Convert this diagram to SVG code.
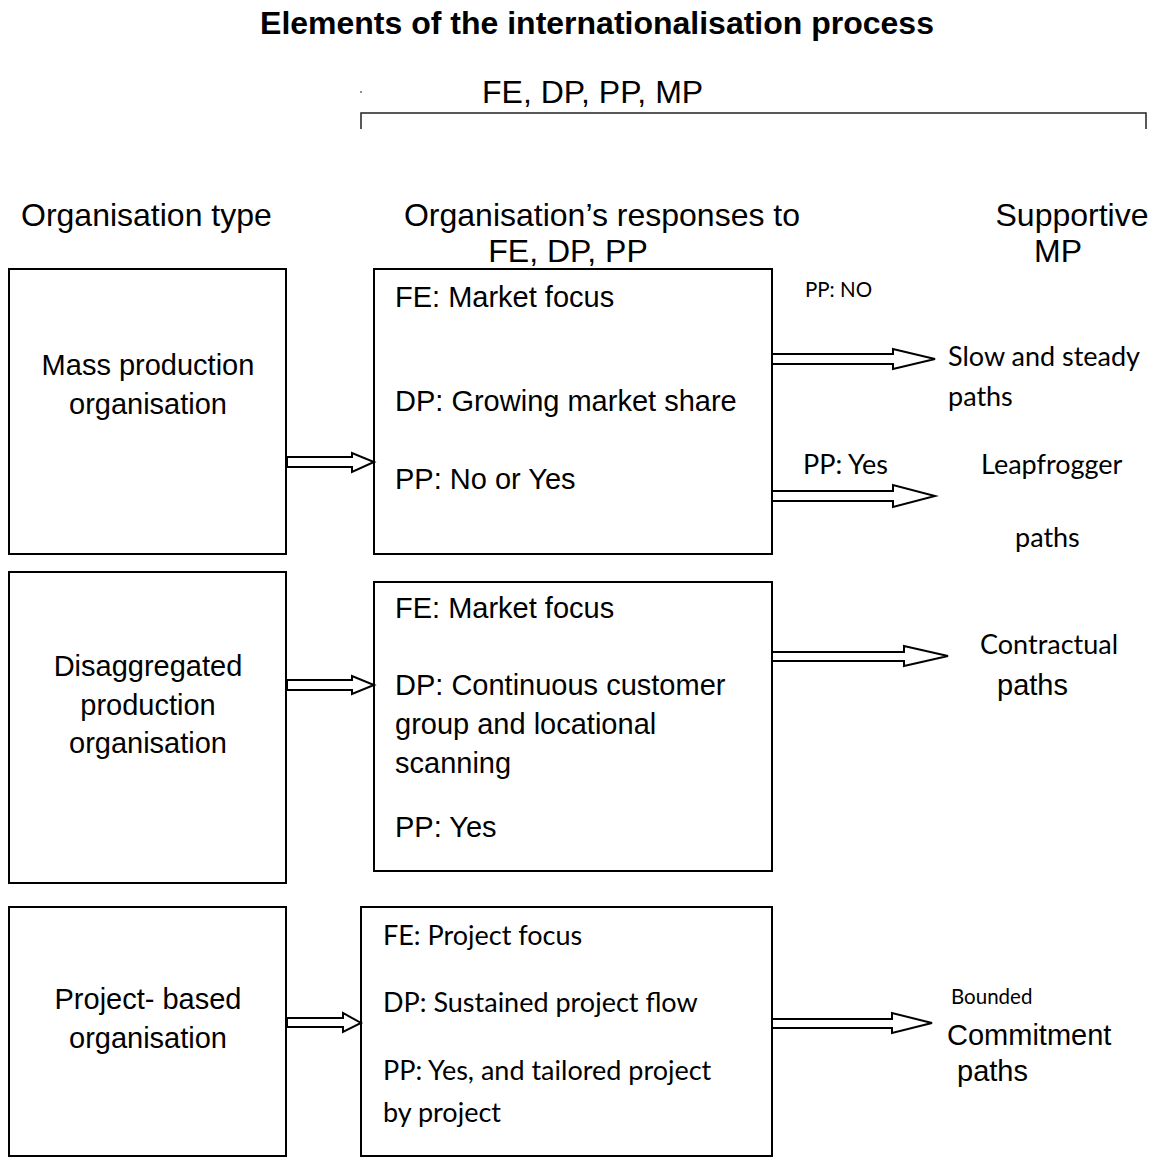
<svg xmlns="http://www.w3.org/2000/svg" width="1154" height="1157" viewBox="0 0 1154 1157">
  <style>
    .box { fill: #ffffff; stroke: #000000; stroke-width: 2; }
    .arrow { fill: #ffffff; stroke: #000000; stroke-width: 2; stroke-linejoin: miter; }
    .bracket { fill: none; stroke: #222222; stroke-width: 1.5; }
    .title { font-family: "Liberation Sans", Arial, sans-serif; font-weight: bold; font-size: 32px; fill: #000; }
    .head { font-family: "Liberation Sans", Arial, sans-serif; font-size: 32px; fill: #000; }
    .t { font-family: "Liberation Sans", Arial, sans-serif; font-size: 29px; fill: #000; }
    .c { font-family: Lato, "Open Sans", sans-serif; font-size: 27px; fill: #000; }
    .small { font-size: 20.5px; }
    .mid { text-anchor: middle; }
  </style>

  <!-- heading and bracket -->
  <text class="title mid" x="597" y="34">Elements of the internationalisation process</text>
  <circle cx="361" cy="92" r="0.8" fill="#000"/>
  <text class="head" x="482" y="103">FE, DP, PP, MP</text>
  <path class="bracket" d="M361,129 V113 H1146 V129"/>

  <!-- column headings -->
  <text class="head" x="21" y="226">Organisation type</text>
  <text class="head mid" x="602" y="226">Organisation’s responses to</text>
  <text class="head mid" x="568" y="262">FE, DP, PP</text>
  <text class="head mid" x="1072" y="226">Supportive</text>
  <text class="head mid" x="1058" y="262">MP</text>

  <!-- row 1: mass production -->
  <g id="mass-production">
    <rect class="box" x="9" y="269" width="277" height="285"/>
    <text class="t mid" x="148" y="375">Mass production</text>
    <text class="t mid" x="148" y="414">organisation</text>
  </g>
  <g id="mass-responses">
    <rect class="box" x="374" y="269" width="398" height="285"/>
    <text class="t" x="395" y="307">FE: Market focus</text>
    <text class="t" x="395" y="411">DP: Growing market share</text>
    <text class="t" x="395" y="489">PP: No or Yes</text>
  </g>
  <g id="slow-steady">
    <text class="c small" x="805" y="297">PP: NO</text>
    <text class="c" x="948" y="366">Slow and steady</text>
    <text class="c" x="948" y="406">paths</text>
  </g>
  <g id="leapfrogger">
    <text class="c" x="803" y="474">PP: Yes</text>
    <text class="c" x="981" y="474">Leapfrogger</text>
    <text class="c" x="1015" y="547">paths</text>
  </g>

  <!-- row 2: disaggregated production -->
  <g id="disaggregated-production">
    <rect class="box" x="9" y="572" width="277" height="311"/>
    <text class="t mid" x="148" y="676">Disaggregated</text>
    <text class="t mid" x="148" y="715">production</text>
    <text class="t mid" x="148" y="753">organisation</text>
  </g>
  <g id="disaggregated-responses">
    <rect class="box" x="374" y="582" width="398" height="289"/>
    <text class="t" x="395" y="618">FE: Market focus</text>
    <text class="t" x="395" y="695">DP: Continuous customer</text>
    <text class="t" x="395" y="734">group and locational</text>
    <text class="t" x="395" y="773">scanning</text>
    <text class="t" x="395" y="837">PP: Yes</text>
  </g>
  <g id="contractual">
    <text class="c" x="980" y="654">Contractual</text>
    <text class="t" x="997" y="695">paths</text>
  </g>

  <!-- row 3: project-based -->
  <g id="project-based">
    <rect class="box" x="9" y="907" width="277" height="249"/>
    <text class="t mid" x="148" y="1009">Project- based</text>
    <text class="t mid" x="148" y="1048">organisation</text>
  </g>
  <g id="project-responses">
    <rect class="box" x="361" y="907" width="411" height="249"/>
    <text class="c" x="383" y="945">FE: Project focus</text>
    <text class="c" x="383" y="1012">DP: Sustained project flow</text>
    <text class="c" x="383" y="1080">PP: Yes, and tailored project</text>
    <text class="c" x="383" y="1122">by project</text>
  </g>
  <g id="bounded-commitment">
    <text class="c small" x="951" y="1004">Bounded</text>
    <text class="t" x="947" y="1045">Commitment</text>
    <text class="t" x="957" y="1081">paths</text>
  </g>

  <!-- connectors: hollow block arrows -->
  <g id="connectors">
    <path class="arrow" d="M287,457 H352 V453 L374,462 L352,472 V467 H287 Z"/>
    <path class="arrow" d="M287,680 H352 V676 L374,685 L352,694 V690 H287 Z"/>
    <path class="arrow" d="M287,1018 H343 V1013 L361,1023 L343,1032 V1027 H287 Z"/>
    <path class="arrow" d="M772,354 H893 V349 L935,359 L893,369 V364 H772 Z"/>
    <path class="arrow" d="M772,491 H893 V485 L935,496 L893,507 V501 H772 Z"/>
    <path class="arrow" d="M772,652 H904 V646 L948,656 L904,666 V661 H772 Z"/>
    <path class="arrow" d="M772,1019 H892 V1013 L932,1023 L892,1033 V1028 H772 Z"/>
  </g>
</svg>
